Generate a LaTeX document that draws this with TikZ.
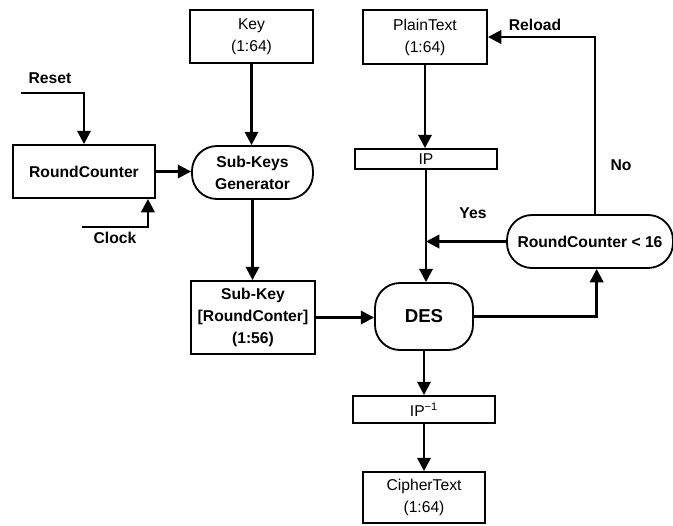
\documentclass[tikz,border=0pt]{standalone}
\usepackage{fontspec}
\setmainfont{Liberation Sans}
\usetikzlibrary{shapes,arrows.meta}

\begin{document}
\begin{tikzpicture}[x=0.6pt, y=-0.6pt]
		\tikzstyle {block} = [draw, line width=1.1pt, inner sep=0pt, align=center, font=\fontsize{9.4}{13.2}\selectfont]
		\tikzstyle {bold block} = [block, font=\bfseries\fontsize{9.4}{13.2}\selectfont]
		\tikzstyle {term} = [bold block, rounded corners=15pt]
		\tikzstyle {flow} = [line width=1.6pt, -{Triangle[length=8pt, width=8pt]}]
		\tikzstyle {tag} = [inner sep=0pt, font=\bfseries\fontsize{9.4}{11}\selectfont]

		\useasboundingbox (0,0) rectangle (673,525);

		% boxes
		\node[block, minimum width=73.8pt, minimum height=31.8pt] (key) at (251.5,36.5) {Key\\(1:64)};
		\node[block, minimum width=74.4pt, minimum height=32.4pt] (plain) at (425,37) {PlainText\\(1:64)};
		\node[bold block, minimum width=85.2pt, minimum height=31.8pt] (rc) at (84,171.5) {RoundCounter};
		\node[term, minimum width=72.6pt, minimum height=31.8pt] (gen) at (252.5,172.5) {Sub-Keys\\Generator};
		\node[block, minimum width=85.2pt, minimum height=12pt] (ip) at (426,159) {IP};
		\node[term, minimum width=99.6pt, minimum height=31.8pt] (rc16) at (590,241.5) {RoundCounter < 16};
		\node[bold block, minimum width=74.4pt, minimum height=43.8pt] (subkey) at (253,317.5) {Sub-Key\\{[}RoundConter{]}\\(1:56)};
		\node[term, minimum width=58.8pt, minimum height=40.2pt, font=\bfseries\fontsize{11.2}{13}\selectfont] (des) at (424,316.5) {DES};
		\node[block, minimum width=85.2pt, minimum height=16.2pt] (ipinv) at (424,409.5) {IP\textsuperscript{−1}};
		\node[block, minimum width=73.2pt, minimum height=30.6pt] (cipher) at (424,497.5) {CipherText\\(1:64)};

		% labels
		\node[tag] (reset) at (50,78) {Reset};
		\node[tag] (clock) at (115,238) {Clock};
		\node[tag] (yes) at (473,213) {Yes};
		\node[tag] (no) at (621,165) {No};
		\node[tag] (reload) at (535,25) {Reload};

		\coordinate (rin) at (21,93);
		\coordinate (cin) at (82,227);
		\coordinate (ystop) at (ip.south |- rc16.west);

		% connectors
		\draw[flow] (key.south) -- (key.south |- gen.north);
		\draw[flow] (rin) -| (rc.north);
		\draw[flow] (cin) -| ([xshift=-4.8pt]rc.south east);
		\draw[flow] (rc.east) -- (rc.east -| gen.west);
		\draw[flow] (gen.south) -- (gen.south |- subkey.north);
		\draw[flow] (plain.south) -- (plain.south |- ip.north);
		\draw[flow] (ip.south) -- (ip.south |- des.north);
		\draw[flow] (subkey.east) -- (subkey.east -| des.west);
		\draw[flow] (des.east) -| ([xshift=4pt]rc16.south);
		\draw[flow] (rc16.west) -- (ystop);
		\draw[flow] ([xshift=3pt]rc16.north) |- (plain.east);
		\draw[flow] (des.south) -- (ipinv.north);
		\draw[flow] (ipinv.south) -- (cipher.north);
\end{tikzpicture}
\end{document}
